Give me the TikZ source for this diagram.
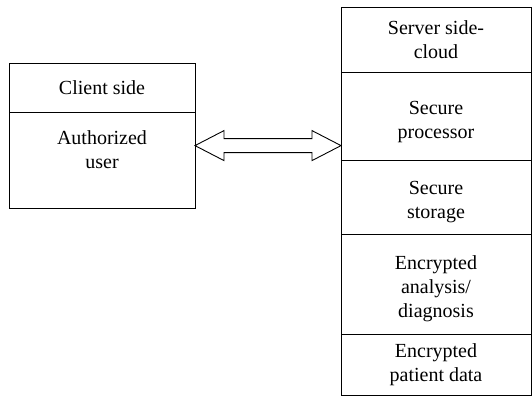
\documentclass[tikz,border=0pt]{standalone}
\usepackage{fontspec}
\setmainfont{Liberation Serif}
\usetikzlibrary{positioning,calc}
\tikzset{cell/.style   = {rectangle, draw, line width=0.9pt, outer sep=0pt, inner sep=0pt,
		align=center, font=\fontsize{20}{24}\selectfont},
	client/.style = {cell, minimum width=186pt},
	server/.style = {cell, minimum width=190pt},
	link/.style   = {draw, line width=0.9pt, line join=miter}
}

\begin{document}
\begin{tikzpicture}[x=1pt, y=-1pt]
		\useasboundingbox (0,0) rectangle (532,396);
		%% client side
		\node [client, minimum height=49pt, anchor=north west] (cl1) at (9,63) {Client side};
		\node [client, minimum height=96pt, below=0pt of cl1] (cl2) {Authorized\\user\rule[-20pt]{0pt}{1pt}};
		%% server side, stacked top to bottom (rules push the text down a little)
		\node [server, minimum height=65pt, anchor=north west] (sv1) at (341,7) {Server side-\\cloud};
		\node [server, minimum height=88pt, below=0pt of sv1] (sv2) {\rule{0pt}{25pt}Secure\\processor};
		\node [server, minimum height=74pt, below=0pt of sv2] (sv3) {\rule{0pt}{23pt}Secure\\storage};
		\node [server, minimum height=100pt, below=0pt of sv3] (sv4) {\rule{0pt}{24pt}Encrypted\\analysis/\\diagnosis};
		\node [server, minimum height=61pt, below=0pt of sv4] (sv5) {Encrypted\\patient data};
		%% double block arrow between the two sides
		\coordinate (lt) at ($(cl2.north east)!0.35!(cl2.south east)$);
		\coordinate (rt) at (sv2.west |- lt);
		\path[link] (lt) -- ++(29,-15) -- ++(0,8) -- ($(rt)+(-29,-7)$) -- ++(0,-8) -- (rt)
			-- ++(-29,15) -- ++(0,-8) -- ($(lt)+(29,7)$) -- ++(0,8) -- cycle;
\end{tikzpicture}
\end{document}
